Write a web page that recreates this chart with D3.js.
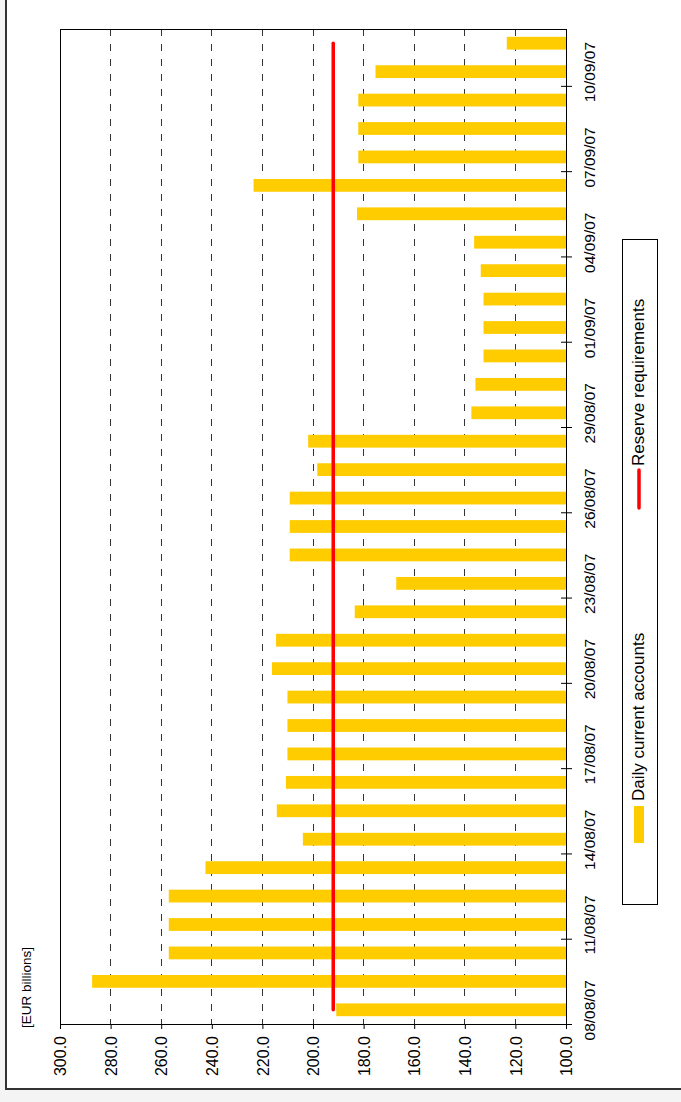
<!DOCTYPE html>
<html>
<head>
<meta charset="utf-8">
<script src="https://cdn.jsdelivr.net/npm/d3@7"></script>
<style>
  html, body { margin: 0; padding: 0; background: #fff; }
  svg { display: block; }
  text { font-family: "Liberation Sans", Arial, sans-serif; fill: #000; }
</style>
</head>
<body>
<svg id="chart" width="681" height="1102"></svg>
<script>
// Daily current accounts of euro-area banks vs. reserve requirements (EUR billions)
const dates = [
  "08/08/07","09/08/07","10/08/07","11/08/07","12/08/07","13/08/07","14/08/07",
  "15/08/07","16/08/07","17/08/07","18/08/07","19/08/07","20/08/07","21/08/07",
  "22/08/07","23/08/07","24/08/07","25/08/07","26/08/07","27/08/07","28/08/07",
  "29/08/07","30/08/07","31/08/07","01/09/07","02/09/07","03/09/07","04/09/07",
  "05/09/07","06/09/07","07/09/07","08/09/07","09/09/07","10/09/07","11/09/07"
];
const currentAccounts = [
  190.8, 287.3, 257.0, 257.0, 257.0, 242.5, 204.0,
  214.3, 210.7, 210.1, 210.1, 210.1, 216.2, 214.6,
  183.5, 167.1, 209.2, 209.2, 209.2, 198.3, 201.9,
  137.4, 135.8, 132.6, 132.6, 132.6, 133.7, 136.3,
  182.6, 223.5, 182.1, 182.1, 182.1, 175.3, 123.4
];
const reserveRequirements = [
  192.0, 192.0, 192.0, 192.0, 192.0, 192.0, 192.0,
  192.0, 192.0, 192.0, 192.0, 192.0, 192.0, 192.0,
  192.0, 192.0, 192.0, 192.0, 192.0, 192.0, 192.0,
  192.0, 192.0, 192.0, 192.0, 192.0, 192.0, 192.0,
  192.0, 192.0, 192.0, 192.0, 192.0, 192.0, 192.0
];
const valueTicks = [100, 120, 140, 160, 180, 200, 220, 240, 260, 280, 300];
const dateTicks = [
  "08/08/07","11/08/07","14/08/07","17/08/07","20/08/07","23/08/07",
  "26/08/07","29/08/07","01/09/07","04/09/07","07/09/07","10/09/07"
];
const seriesNames = ["Daily current accounts", "Reserve requirements"];
const unitLabel = "[EUR billions]";

const parse = d3.timeParse("%d/%m/%y");
const fmtDate = d3.timeFormat("%d/%m/%y");
const data = dates.map((d, i) => ({
  date: parse(d), value: currentAccounts[i], reserve: reserveRequirements[i]
}));

const svg = d3.select("#chart");
const plot = { left: 60, right: 566, top: 29, bottom: 1024 };

// Outer frame (left and bottom edges) with a faint grey margin outside it
svg.append("rect").attr("x", 0).attr("y", 0).attr("width", 5).attr("height", 1102).attr("fill", "#f4f4f4");
svg.append("rect").attr("x", 0).attr("y", 1090).attr("width", 681).attr("height", 12).attr("fill", "#f4f4f4");
svg.append("line").attr("x1", 6).attr("x2", 6).attr("y1", 0).attr("y2", 1089)
  .attr("stroke", "#333").attr("stroke-width", 2);
svg.append("line").attr("x1", 5).attr("x2", 681).attr("y1", 1089).attr("y2", 1089)
  .attr("stroke", "#333").attr("stroke-width", 2);

// Value axis runs horizontally (300 on the left, 100 on the right)
const x = d3.scaleLinear().domain([100, 300]).range([plot.right, plot.left]);
// Date axis runs vertically, one slot per calendar day, earliest at the bottom
const firstDay = data[0].date;
const lastDay = d3.timeDay.offset(data[data.length - 1].date, 1);
const y = d3.scaleTime().domain([firstDay, lastDay]).range([plot.bottom, plot.top]);
const mid = d => d3.timeHour.offset(d, 12);
const slot = y(firstDay) - y(d3.timeDay.offset(firstDay, 1));
const barH = slot * 0.45;

// Dashed vertical gridlines
svg.append("g").selectAll("line")
  .data(valueTicks.filter(v => v > 100 && v < 300))
  .join("line")
  .attr("x1", d => x(d)).attr("x2", d => x(d))
  .attr("y1", plot.top).attr("y2", plot.bottom)
  .attr("stroke", "#333").attr("stroke-width", 1)
  .attr("stroke-dasharray", "7,8")
  .attr("shape-rendering", "crispEdges");

// Bars: daily current accounts
svg.append("g").selectAll("rect")
  .data(data)
  .join("rect")
  .attr("x", d => x(d.value))
  .attr("width", d => x(100) - x(d.value))
  .attr("y", d => y(mid(d.date)) - barH / 2)
  .attr("height", barH)
  .attr("fill", "#FFCC00");

// Reserve requirements line
const line = d3.line().x(d => x(d.reserve)).y(d => y(mid(d.date)));
svg.append("path").datum(data)
  .attr("d", line)
  .attr("fill", "none")
  .attr("stroke", "#FF0000")
  .attr("stroke-width", 3.5)
  .attr("stroke-linecap", "round");

// Plot border
svg.append("rect")
  .attr("x", plot.left).attr("y", plot.top)
  .attr("width", plot.right - plot.left).attr("height", plot.bottom - plot.top)
  .attr("fill", "none").attr("stroke", "#000").attr("stroke-width", 1)
  .attr("shape-rendering", "crispEdges");

// Value axis at the bottom, labels rotated
const xAxis = svg.append("g")
  .attr("transform", `translate(0,${plot.bottom})`)
  .call(d3.axisBottom(x).tickValues(valueTicks).tickFormat(d3.format(".1f")).tickSize(5).tickSizeOuter(0));
xAxis.select(".domain").attr("stroke", "#000");
xAxis.selectAll(".tick line").attr("stroke", "#000");
xAxis.selectAll(".tick text")
  .attr("transform", "rotate(-90)")
  .attr("x", -12).attr("y", 0).attr("dy", "0.36em")
  .style("text-anchor", "end")
  .style("font-size", "16px")
  .attr("font-family", null);

// Date axis on the right, ticks at day boundaries, labels centred on each day's bar
const yAxis = svg.append("g")
  .attr("transform", `translate(${plot.right},0)`)
  .call(d3.axisRight(y).tickValues(dateTicks.map(parse)).tickFormat(fmtDate).tickSize(6).tickSizeOuter(0));
yAxis.select(".domain").attr("stroke", "#000");
yAxis.selectAll(".tick line").attr("x1", -5).attr("stroke", "#000");
yAxis.selectAll(".tick text")
  .attr("x", null).attr("dy", null)
  .attr("transform", `translate(29,${-slot / 2}) rotate(-90)`)
  .style("text-anchor", "middle")
  .style("font-size", "15.5px")
  .attr("font-family", null);

// Unit label
svg.append("text")
  .attr("transform", "translate(31,1028) rotate(-90)")
  .style("font-size", "13.5px")
  .text(unitLabel);

// Legend
svg.append("rect")
  .attr("x", 622).attr("y", 239).attr("width", 35).attr("height", 665)
  .attr("fill", "#fff").attr("stroke", "#000").attr("stroke-width", 1)
  .attr("shape-rendering", "crispEdges");
svg.append("rect")
  .attr("x", 634).attr("y", 806).attr("width", 10).attr("height", 37)
  .attr("fill", "#FFCC00");
svg.append("text")
  .attr("transform", "translate(644,801) rotate(-90)")
  .style("font-size", "17px")
  .text(seriesNames[0]);
svg.append("line")
  .attr("x1", 639).attr("x2", 639).attr("y1", 470).attr("y2", 508)
  .attr("stroke", "#FF0000").attr("stroke-width", 3.5).attr("stroke-linecap", "round");
svg.append("text")
  .attr("transform", "translate(644,466) rotate(-90)")
  .style("font-size", "17px")
  .text(seriesNames[1]);
</script>
</body>
</html>
